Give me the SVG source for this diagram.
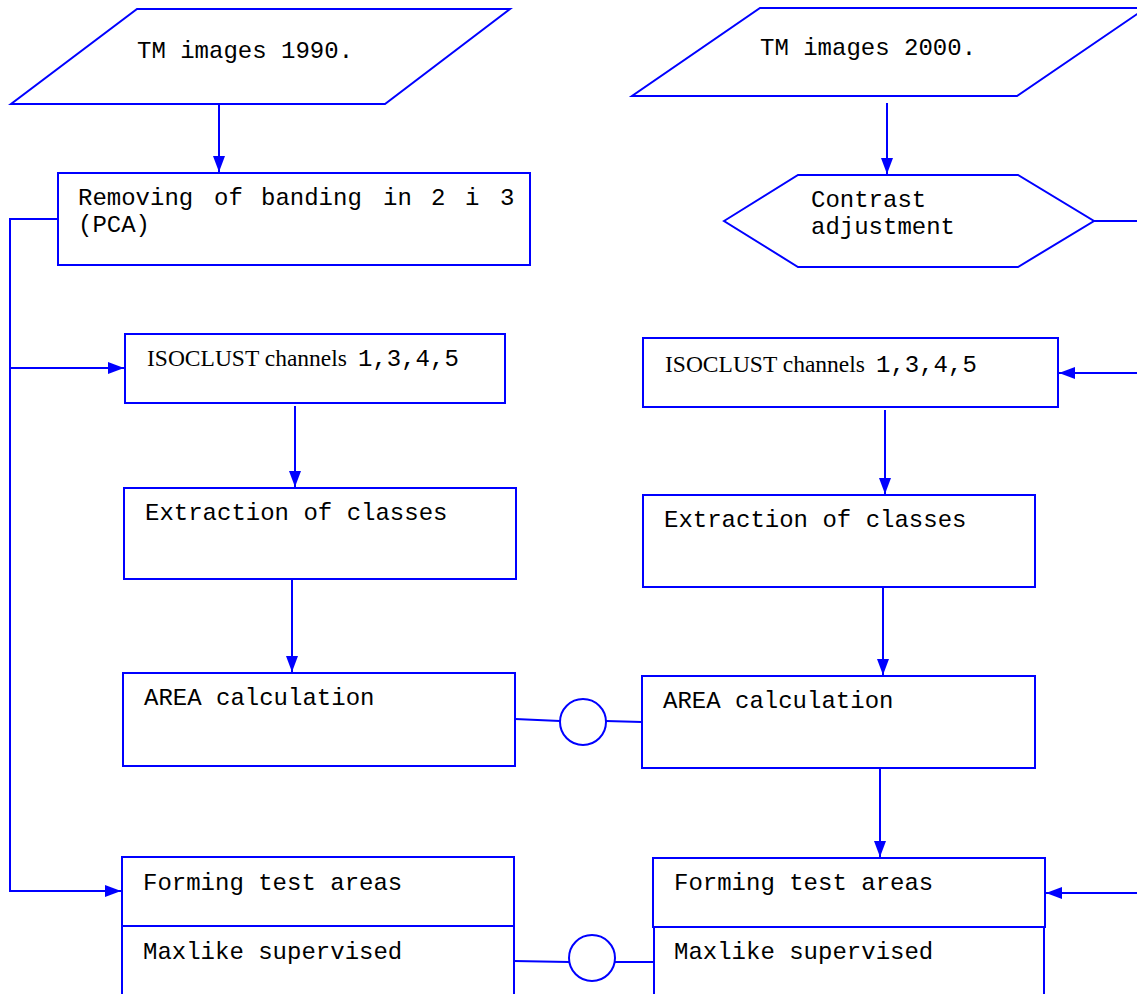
<svg xmlns="http://www.w3.org/2000/svg" width="1137" height="994" viewBox="0 0 1137 994">
<style>
.s{fill:#fff;stroke:#0000ff;stroke-width:2}
.c{fill:none;stroke:#0000ff;stroke-width:2}
.t{font-family:"Liberation Mono","Courier New",monospace;font-size:24px;fill:#000}
.n{font-family:"Liberation Serif","Times New Roman",serif;font-size:23.5px;fill:#000}
</style>
<defs>
<marker id="ah" viewBox="0 0 16 12" refX="16" refY="6" markerWidth="16" markerHeight="12" markerUnits="userSpaceOnUse" orient="auto">
<path d="M0,0 L16,6 L0,12 Z" fill="#0000ff"/>
</marker>
</defs>
<rect width="1137" height="994" fill="#fff"/>
<g id="connectors">
<line class="c" x1="219" y1="104" x2="219" y2="172" marker-end="url(#ah)"/>
<line class="c" x1="887" y1="103" x2="887" y2="174" marker-end="url(#ah)"/>
<line class="c" x1="1094" y1="221" x2="1137" y2="221"/>
<polyline class="c" points="58,219 10,219 10,891 121,891" marker-end="url(#ah)"/>
<line class="c" x1="10" y1="368" x2="124" y2="368" marker-end="url(#ah)"/>
<line class="c" x1="1137" y1="373" x2="1059" y2="373" marker-end="url(#ah)"/>
<line class="c" x1="295" y1="406" x2="295" y2="487" marker-end="url(#ah)"/>
<line class="c" x1="885" y1="410" x2="885" y2="494" marker-end="url(#ah)"/>
<line class="c" x1="292" y1="580" x2="292" y2="672" marker-end="url(#ah)"/>
<line class="c" x1="883" y1="587" x2="883" y2="675" marker-end="url(#ah)"/>
<line class="c" x1="880" y1="769" x2="880" y2="857" marker-end="url(#ah)"/>
<line class="c" x1="1137" y1="893" x2="1046" y2="893" marker-end="url(#ah)"/>
<line class="c" x1="515" y1="719" x2="560" y2="721"/>
<line class="c" x1="606" y1="721" x2="642" y2="722"/>
<line class="c" x1="514" y1="961" x2="569" y2="962"/>
<line class="c" x1="615" y1="962" x2="654" y2="962"/>
</g>
<g id="tm1990">
<polygon class="s" points="137,9 510,9 385,104 11,104"/>
<text class="t" x="137" y="58">TM images 1990.</text>
</g>
<g id="tm2000">
<polygon class="s" points="760,8 1146,8 1017,96 632,96"/>
<text class="t" x="760" y="55">TM images 2000.</text>
</g>
<g id="removing">
<rect class="s" x="58" y="173" width="472" height="92"/>
<text class="t" y="205"><tspan x="78">Removing</tspan><tspan x="214">of</tspan><tspan x="261">banding</tspan><tspan x="383">in</tspan><tspan x="431">2</tspan><tspan x="465">i</tspan><tspan x="500">3</tspan></text>
<text class="t" x="78" y="232">(PCA)</text>
</g>
<g id="contrast">
<polygon class="s" points="724,221 798,175 1018,175 1094,221 1018,267 798,267"/>
<text class="t" x="811" y="207">Contrast</text>
<text class="t" x="811" y="234">adjustment</text>
</g>
<g id="isoclust1">
<rect class="s" x="125" y="334" width="380" height="69"/>
<text class="n" x="147" y="366">ISOCLUST channels</text>
<text class="t" x="358" y="366">1,3,4,5</text>
</g>
<g id="isoclust2">
<rect class="s" x="643" y="338" width="415" height="69"/>
<text class="n" x="665" y="372">ISOCLUST channels</text>
<text class="t" x="876" y="372">1,3,4,5</text>
</g>
<g id="extract1">
<rect class="s" x="124" y="488" width="392" height="91"/>
<text class="t" x="145" y="520">Extraction of classes</text>
</g>
<g id="extract2">
<rect class="s" x="643" y="495" width="392" height="92"/>
<text class="t" x="664" y="527">Extraction of classes</text>
</g>
<g id="area1">
<rect class="s" x="123" y="673" width="392" height="93"/>
<text class="t" x="144" y="705">AREA calculation</text>
</g>
<g id="area2">
<rect class="s" x="642" y="676" width="393" height="92"/>
<text class="t" x="663" y="708">AREA calculation</text>
</g>
<g id="circle1">
<circle class="s" cx="583" cy="722" r="23"/>
</g>
<g id="forming1">
<rect class="s" x="122" y="857" width="392" height="69"/>
<text class="t" x="143" y="890">Forming test areas</text>
</g>
<g id="maxlike1">
<rect class="s" x="122" y="926" width="392" height="90"/>
<text class="t" x="143" y="959">Maxlike supervised</text>
</g>
<g id="forming2">
<rect class="s" x="653" y="858" width="392" height="69"/>
<text class="t" x="674" y="890">Forming test areas</text>
</g>
<g id="maxlike2">
<rect class="s" x="654" y="927" width="390" height="90"/>
<text class="t" x="674" y="959">Maxlike supervised</text>
</g>
<g id="circle2">
<circle class="s" cx="592" cy="958" r="23"/>
</g>
</svg>
